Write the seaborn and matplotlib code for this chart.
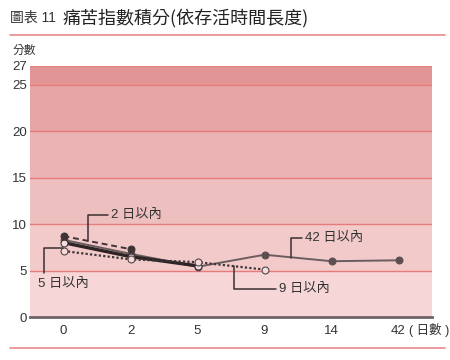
import matplotlib
matplotlib.use("Agg")
import matplotlib.pyplot as plt
import seaborn as sns
import pandas as pd
import numpy as np

sns.set_theme(style="white")
plt.rcParams['font.family'] = ['Liberation Sans', 'Noto Sans CJK TC', 'DejaVu Sans']

days = ["0", "2", "5", "9", "14", "42"]
s2 = [8.7, 7.3]
s5 = [8.0, 6.5, 5.5]
s9 = [7.1, 6.2, 5.9, 5.1]
s42 = [8.3, 6.8, 5.4, 6.7, 6.0, 6.1]
yticks = [0, 5, 10, 15, 20, 25, 27]

rows = []
for name, vals in [("2", s2), ("5", s5), ("9", s9), ("42", s42)]:
    for i, v in enumerate(vals):
        rows.append({"series": name, "x": i, "day": days[i], "score": v})
df = pd.DataFrame(rows)

fig = plt.figure(figsize=(4.5, 3.6), dpi=100)
ax = fig.add_axes([30/450, 1-317/360, (432-30)/450, (317-66)/360])

band_colors = ["#f6d6d6", "#f2caca", "#eebfbf", "#eab3b3", "#e6a6a6", "#e29595"]
edges = [0, 5, 10, 15, 20, 25, 27]
for c, (a, b) in zip(band_colors, zip(edges[:-1], edges[1:])):
    ax.axhspan(a, b, color=c, lw=0, zorder=0)
for g in [5, 10, 15, 20, 25]:
    ax.axhline(g, color="#e77a7a", lw=1.0, zorder=1)
ax.axhline(27, color="#e08080", lw=1.2, zorder=1)

d = df[df.series == "42"]
sns.lineplot(data=d, x="x", y="score", ax=ax, color="#6b5d5f", lw=1.4,
             marker="o", markersize=5, markerfacecolor="#5e5052",
             markeredgecolor="#5e5052", zorder=3)
d = df[df.series == "5"]
sns.lineplot(data=d, x="x", y="score", ax=ax, color="#2e2426", lw=2.4,
             marker="o", markersize=5, markerfacecolor="#f3dede",
             markeredgecolor="#3a3032", zorder=4)
d = df[df.series == "2"]
sns.lineplot(data=d, x="x", y="score", ax=ax, color="#3e3436", lw=1.4,
             linestyle=(0, (3, 2)), marker="o", markersize=5,
             markerfacecolor="#3e3436", markeredgecolor="#3e3436", zorder=4)
d = df[df.series == "9"]
sns.lineplot(data=d, x="x", y="score", ax=ax, color="#3e3436", lw=1.6,
             linestyle=(0, (1, 1)), marker="o", markersize=5,
             markerfacecolor="#f6dada", markeredgecolor="#4a4042", zorder=4)

ax.set_xlim(-0.5, 5.5)
ax.set_ylim(0, 27)
ax.set_yticks(yticks)
ax.set_yticklabels([str(t) for t in yticks], fontsize=9.5, color="#333333")
ax.set_xticks(range(len(days)))
ax.set_xticklabels(days, fontsize=9.5, color="#333333")
ax.tick_params(axis="x", length=0, pad=6)
ax.tick_params(axis="y", length=0, pad=2)
for s in ["top", "right", "left"]:
    ax.spines[s].set_visible(False)
ax.spines["bottom"].set_color("#6e6466")
ax.spines["bottom"].set_linewidth(2)
ax.set_xlabel("")
ax.set_ylabel("")

def px(xp, yp):
    return (xp/450, 1 - yp/360)

fig.text(*px(409, 330), "( 日數 )", fontsize=9, va="center", ha="left", color="#333333")

lc = "#3a3032"
def conn(pts):
    xs = [p[0]/450 for p in pts]
    ys = [1 - p[1]/360 for p in pts]
    fig.add_artist(plt.Line2D(xs, ys, color=lc, lw=1.1, transform=fig.transFigure, zorder=6))

conn([(108, 215), (88, 215), (88, 241)])
fig.text(*px(111, 215), "2 日以內", fontsize=9.5, va="center", ha="left", color="#333333")
conn([(63, 248), (44, 248), (44, 273)])
fig.text(*px(38, 284), "5 日以內", fontsize=9.5, va="center", ha="left", color="#333333")
conn([(302, 238), (291, 238), (291, 258)])
fig.text(*px(305, 238), "42 日以內", fontsize=9.5, va="center", ha="left", color="#333333")
conn([(234, 266), (234, 289), (276, 289)])
fig.text(*px(279, 289), "9 日以內", fontsize=9.5, va="center", ha="left", color="#333333")

fig.text(*px(10, 18), "圖表 11", fontsize=10, va="center", ha="left", color="#333333")
fig.text(*px(63, 18), "痛苦指數積分(依存活時間長度)", fontsize=13, va="center", ha="left",
         color="#222222", family=['Noto Sans CJK TC', 'DejaVu Sans'])
fig.add_artist(plt.Line2D([10/450, 445/450], [1-35/360, 1-35/360], color="#ea8a8a", lw=1.2, transform=fig.transFigure))
fig.add_artist(plt.Line2D([10/450, 445/450], [1-348/360, 1-348/360], color="#ea8a8a", lw=1.2, transform=fig.transFigure))
fig.text(*px(13, 51), "分數", fontsize=8.5, va="center", ha="left", color="#333333")

fig.savefig("out.png", dpi=100)
